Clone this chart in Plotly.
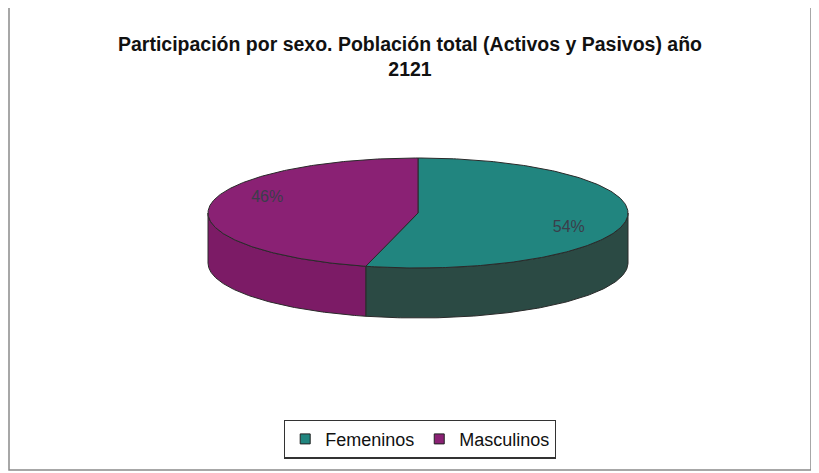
import numpy as np
import plotly.graph_objects as go

# ---- data ----
categories = ["Femeninos", "Masculinos"]
values = [54, 46]
label_texts = ["54%", "46%"]
title_text = "Participación por sexo. Población total (Activos y Pasivos) año<br>2121"

# ---- style ----
top_colors = ["#21857f", "#8a2174"]
side_colors = ["#2b4a44", "#7c1b66"]
edge_color = "#2a2a2a"

W, H = 819, 473
OFF = 8  # page body margin
CX, CY, RX, RY, DEPTH = 418, 213, 210, 55, 50

def pt(phi_deg, dy=0.0, r=1.0):
    p = np.radians(phi_deg)
    return CX + r * RX * np.sin(p), CY - r * RY * np.cos(p) + dy

def py(screen_y):
    return 1 - (screen_y - OFF) / H

total = float(sum(values))
starts, ends = [], []
acc = 0.0
for v in values:
    starts.append(acc / total * 360.0)
    acc += v
    ends.append(acc / total * 360.0)

fig = go.Figure()

# side walls (front half only: 90..270 degrees)
for i, cat in enumerate(categories):
    a0 = max(starts[i], 90.0)
    a1 = min(ends[i], 270.0)
    if a1 <= a0:
        continue
    ph = np.linspace(a0, a1, 120)
    xt, yt = pt(ph)
    xb, yb = pt(ph[::-1], dy=DEPTH)
    xs = np.concatenate([xt, xb, xt[:1]])
    ys = np.concatenate([yt, yb, yt[:1]])
    fig.add_trace(go.Scatter(x=xs, y=ys, mode="lines", fill="toself",
                             fillcolor=side_colors[i],
                             line=dict(color=edge_color, width=1),
                             hoverinfo="skip", showlegend=False))

# top faces
for i, cat in enumerate(categories):
    ph = np.linspace(starts[i], ends[i], 240)
    xa, ya = pt(ph)
    xs = np.concatenate([[CX], xa, [CX]])
    ys = np.concatenate([[CY], ya, [CY]])
    fig.add_trace(go.Scatter(x=xs, y=ys, mode="lines", fill="toself",
                             fillcolor=top_colors[i],
                             line=dict(color=edge_color, width=1),
                             hoverinfo="skip", showlegend=False))

# data labels
for i, cat in enumerate(categories):
    mid = (starts[i] + ends[i]) / 2.0 + 14.0
    lx, ly = pt(mid, r=0.77)
    fig.add_trace(go.Scatter(x=[lx], y=[ly], mode="text", text=[label_texts[i]],
                             textfont=dict(family="Liberation Sans, Arial", size=16,
                                           color="#3b3d4a"),
                             hoverinfo="skip", showlegend=False))

# legend entries
for i, cat in enumerate(categories):
    fig.add_trace(go.Scatter(x=[None], y=[None], mode="markers", name=cat,
                             marker=dict(symbol="square", size=10, color=top_colors[i],
                                         line=dict(color="#222222", width=1))))

fig.add_shape(type="rect", xref="x", yref="y", x0=9, y0=4, x1=811, y1=470,
              line=dict(color="#8a8a8a", width=1.5), layer="below")

fig.update_layout(
    width=W, height=H,
    margin=dict(l=0, r=0, t=0, b=0),
    paper_bgcolor="white", plot_bgcolor="white",
    title=dict(text=title_text, x=(410 - OFF) / W, xanchor="center", y=py(51), yanchor="top",
               font=dict(family="Liberation Sans, Arial", size=19.5, color="#111111",
                         weight="bold")),
    xaxis=dict(range=[OFF, W + OFF], visible=False, fixedrange=True),
    yaxis=dict(range=[H + OFF, OFF], visible=False, fixedrange=True),
    legend=dict(orientation="h", x=(420 - OFF) / W, xanchor="center", y=py(439),
                yanchor="middle",
                bordercolor="#333333", borderwidth=1.2, bgcolor="white",
                font=dict(family="Liberation Sans, Arial", size=18, color="#111111"),
                itemwidth=30, itemclick=False),
    showlegend=True,
)

fig.write_html("out.html")
